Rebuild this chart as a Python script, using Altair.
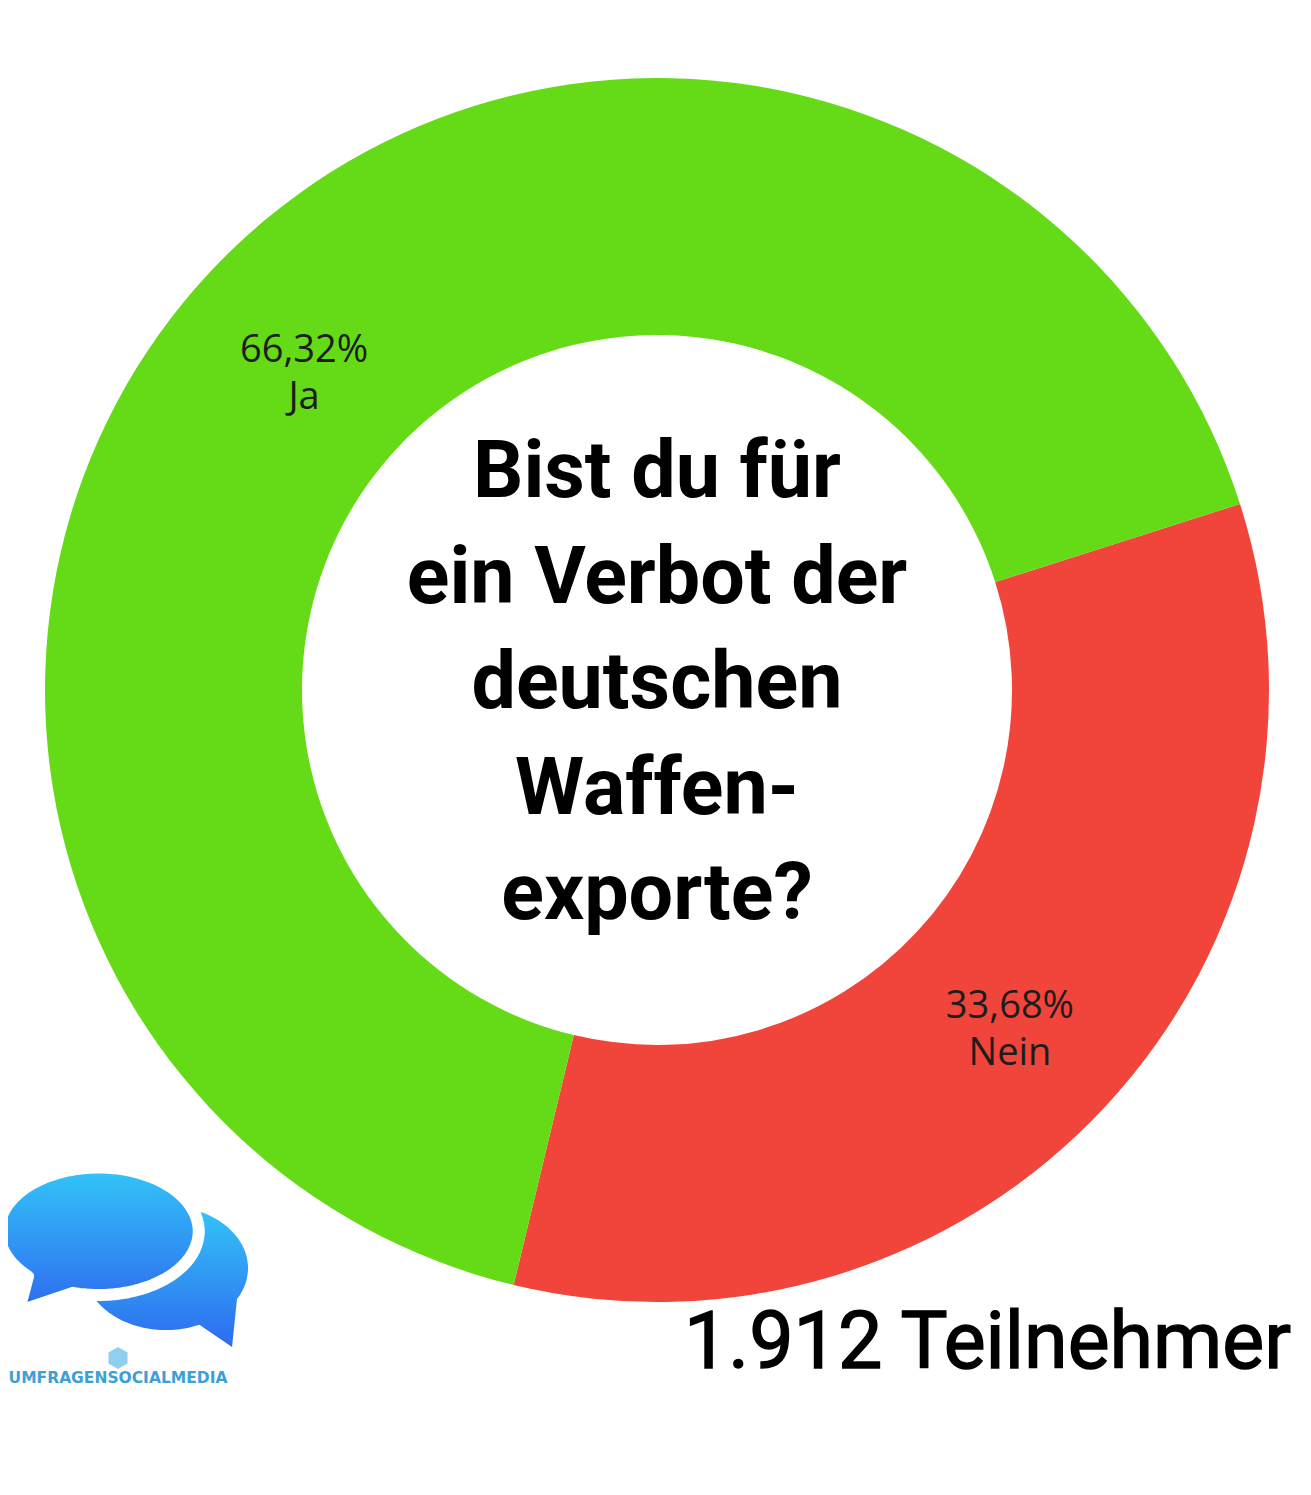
import math
import altair as alt
import pandas as pd

# ---- data ----
categories = ["Nein", "Ja"]
shares = [33.68, 66.32]
label_texts = ["33,68%\nNein", "66,32%\nJa"]
slice_order = [0, 1]
slice_colors = ["#F1443A", "#64DB16"]
question = "Bist du für\u00a0\nein Verbot der\ndeutschen\nWaffen-\nexporte?"
participants = "1.912 Teilnehmer"
brand = "UMFRAGENSOCIALMEDIA"

df = pd.DataFrame({
    "answer": categories,
    "share": shares,
    "label": label_texts,
    "order": slice_order,
})

W, H = 1295, 1479
CX, CY = 649, 682
start = math.radians(72.3)
theta_scale = alt.Scale(range=[start, start + 2 * math.pi])

base = alt.Chart(df).encode(
    theta=alt.Theta("share:Q", stack=True, scale=theta_scale),
    order=alt.Order("order:Q"),
)

donut = base.mark_arc(outerRadius=612, innerRadius=355, stroke=None).encode(
    color=alt.Color("answer:N",
                    scale=alt.Scale(domain=categories, range=slice_colors),
                    legend=None),
    x=alt.value(CX), y=alt.value(CY),
)

labels = base.mark_text(radius=482, font="Open Sans", fontSize=38,
                        color="#1d1d1d", lineBreak="\n", baseline="middle",
                        align="center", lineHeight=47, dy=-11).encode(
    text="label:N",
    x=alt.value(CX), y=alt.value(CY),
)

one = pd.DataFrame({"q": [question], "p": [participants], "b": [brand]})

title = alt.Chart(one).mark_text(font="Roboto", fontWeight="bold", fontSize=79,
                                 color="#000000", lineBreak="\n",
                                 baseline="alphabetic", align="center",
                                 lineHeight=105.5).encode(
    text="q:N", x=alt.value(CX), y=alt.value(489))

total = alt.Chart(one).mark_text(font="Roboto", fontWeight="normal", fontSize=79,
                                 color="#000000", stroke="#000000",
                                 strokeWidth=1.4, baseline="alphabetic",
                                 align="right").encode(
    text="p:N", x=alt.value(1283), y=alt.value(1360))

# ---- logo (decorative) ----
blue_grad = alt.Gradient(
    gradient="linear", x1=0, y1=0, x2=0, y2=1,
    stops=[alt.GradientStop(offset=0, color="#33C6F8"),
           alt.GradientStop(offset=1, color="#2E6AEF")])


def bubble(cx, cy, rx, ry, t1, t2, tip):
    # ellipse outline from angle t1 backwards (the long way) to t2-360, then tail tip
    pts = []
    a = t1
    end = t2 - 360
    while a > end:
        r = math.radians(a)
        pts.append((cx + rx * math.cos(r), cy + ry * math.sin(r)))
        a -= 4
    r = math.radians(end)
    pts.append((cx + rx * math.cos(r), cy + ry * math.sin(r)))
    pts.append(tip)
    return "M " + " L ".join(f"{x:.3f} {y:.3f}" for x, y in pts) + " Z"


back_bubble = bubble(0.328, 0.104, 0.656, 0.496, 30, 66, (0.856, 0.736))
front_bubble = bubble(-0.21, -0.19, 0.8, 0.51, 105, 135, (-0.85, 0.45))
hexagon = "M 0 -1 L 0.866 -0.5 L 0.866 0.5 L 0 1 L -0.866 0.5 L -0.866 -0.5 Z"

LX, LY = 117, 1247
logo_back = alt.Chart(one).mark_point(shape=back_bubble, size=250 * 250,
                                      filled=True, fill=blue_grad,
                                      strokeWidth=0, opacity=1).encode(
    x=alt.value(LX), y=alt.value(LY))
logo_front = alt.Chart(one).mark_point(shape=front_bubble, size=250 * 250,
                                       filled=True, fill=blue_grad,
                                       stroke="white", strokeWidth=12,
                                       strokeJoin="round",
                                       opacity=1).encode(
    x=alt.value(LX), y=alt.value(LY))
logo_hex = alt.Chart(one).mark_point(shape=hexagon, size=22 * 22, filled=True,
                                     fill="#8FD0F2", strokeWidth=0,
                                     opacity=1).encode(
    x=alt.value(110), y=alt.value(1350))
logo_text = alt.Chart(one).mark_text(font="DejaVu Sans", fontWeight="bold",
                                     fontSize=15.5, color="#3C9FD6",
                                     align="center", baseline="middle").encode(
    text="b:N", x=alt.value(110), y=alt.value(1370))

chart = alt.layer(donut, labels, title, total,
                  logo_back, logo_front, logo_hex, logo_text).properties(
    width=W, height=H,
    autosize=alt.AutoSizeParams(type="none"),
    padding=0,
    background="white",
).configure_view(stroke=None)

chart.save("out.html", embed_options={"renderer": "svg", "actions": False})
